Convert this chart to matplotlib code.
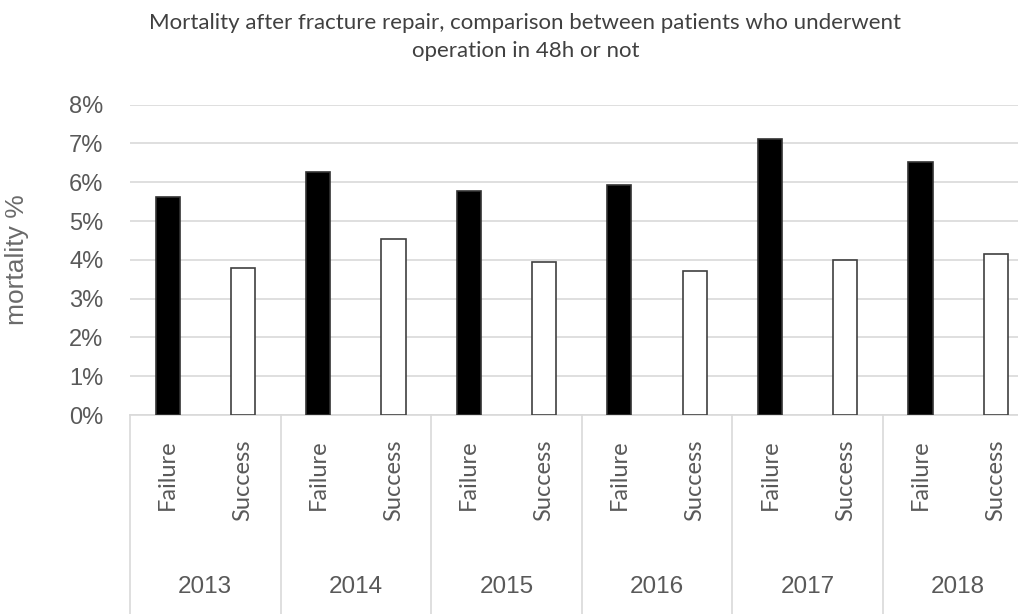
import matplotlib.pyplot as plt
from matplotlib.transforms import blended_transform_factory

years = ["2013", "2014", "2015", "2016", "2017", "2018"]
groups = ["Failure", "Success"]
failure = [5.63, 6.26, 5.78, 5.92, 7.11, 6.53]
success = [3.79, 4.54, 3.94, 3.71, 4.00, 4.16]

title = ("Mortality after fracture repair, comparison between patients who underwent\n"
         "operation in 48h or not")

grey = "#595959"
grid = "#d9d9d9"

fig = plt.figure(figsize=(10.18, 6.14), dpi=100)
ax = fig.add_axes([0.1277, 0.3241, 0.8875, 0.5054])

# interleave failure/success per year
vals = []
for f, s in zip(failure, success):
    vals += [f, s]
xs = list(range(len(vals)))
colors = ["black", "white"] * len(years)
edges = ["#333333", "#404040"] * len(years)
ax.bar(xs, vals, width=0.32, color=colors, edgecolor=edges, linewidth=1.2, zorder=3)

ax.set_xlim(-0.5, len(vals) - 0.5)
ax.set_ylim(0, 8)
ax.set_yticks(range(0, 9))
ax.set_yticklabels([f"{i}%" for i in range(0, 9)], fontsize=17,
                   color=grey, family="Liberation Sans")
ax.tick_params(axis="y", length=0, pad=19)
ax.set_xticks([])
ax.grid(axis="y", color=grid, linewidth=1.2, zorder=0)
for sp in ["top", "right", "left"]:
    ax.spines[sp].set_visible(False)
ax.spines["bottom"].set_color(grid)
ax.spines["bottom"].set_linewidth(1.2)

ax.set_ylabel("mortality %", fontsize=19, color="#6a6a6a", family="Liberation Sans")
ax.yaxis.set_label_coords(-0.112, 0.5)

trans = blended_transform_factory(ax.transData, ax.transAxes)
for i in range(len(years) + 1):
    x = i * 2 - 0.5
    ax.plot([x, x], [0, -0.7], color=grid, linewidth=1.2, transform=trans,
            clip_on=False)
for i, x in enumerate(xs):
    ax.text(x, -0.08, groups[i % 2], rotation=90, ha="center", va="top",
            fontsize=17, color=grey, family=["Lato", "DejaVu Sans"],
            transform=trans)
for i, y in enumerate(years):
    ax.text(i * 2 + 0.5, -0.555, y, ha="center", va="center", fontsize=17.5,
            color=grey, family="Liberation Sans", transform=trans)

fig.text(0.516, 1 - 37 / 614, title, ha="center", va="center", fontsize=16,
         color="#404040", linespacing=1.55,
         family=["Lato", "DejaVu Sans"])

fig.savefig("out.png", dpi=100)
